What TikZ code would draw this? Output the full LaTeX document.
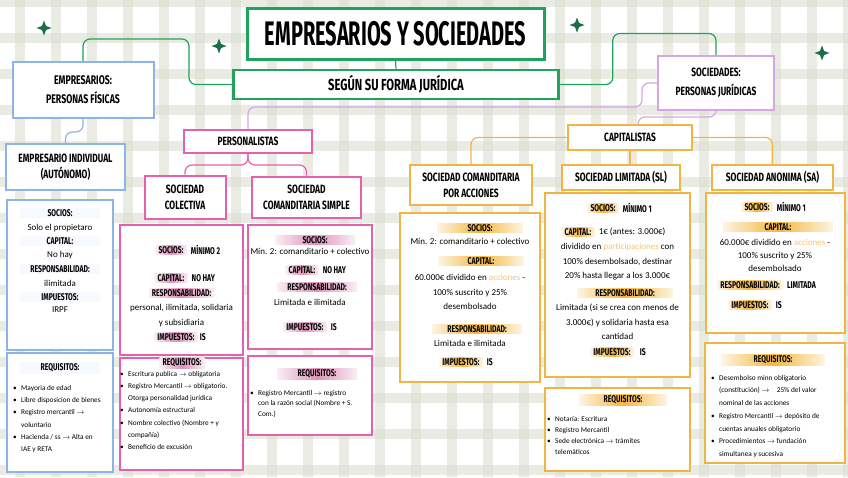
\documentclass[tikz,border=0pt]{standalone}
\usepackage{fontspec}
\usepackage{graphicx}
\setmainfont{Carlito}
\newfontfamily\capfont[FakeStretch=0.7]{Fira Sans}
\usepackage{tikz}
\usetikzlibrary{positioning,shapes.geometric}
\definecolor{cGreen} {HTML}{21A35E}
\definecolor{cStar}  {HTML}{1C6E47}
\definecolor{cBlue}  {HTML}{8DB4E6}
\definecolor{cBlueT} {HTML}{A9C1F2}
\definecolor{cPink}  {HTML}{E561AE}
\definecolor{cPinkT} {HTML}{DE92BA}
\definecolor{cOrange}{HTML}{F2B544}
\definecolor{cOrangeT}{HTML}{F4B73E}
\definecolor{cLilac} {HTML}{D6A6E4}
\definecolor{cAcc}   {HTML}{F6C57A}
\definecolor{cStripe}{HTML}{D9DDCF}

\newcommand\fTitle{\capfont\bfseries\fontsize{12}{16}\selectfont}
\newcommand\fLbl{\capfont\bfseries\fontsize{9.8}{11}\selectfont}
\newcommand\fBody{\fontsize{9}{14.5}\selectfont}
\newcommand\itm{\makebox[8pt][l]{\textbullet}}
\newcommand\cont{\hspace*{8pt}}
\newcommand\goesto{$\rightarrow$}

\tikzset{
  box/.style={draw=#1, fill=white, line width=2pt, align=center, font=\fTitle, inner sep=0pt},
  panel/.style={draw=#1, fill=white, line width=1.8pt, inner sep=0pt},
  tag/.style={font=\fLbl, inner xsep=3pt, inner ysep=1.4pt,
    left color=#1!15, right color=#1!15, middle color=#1},
  body/.style={font=\fBody, inner sep=0pt, align=center},
  word/.style={font=\fLbl, inner sep=0pt},
  items/.style={inner sep=0pt, align=left, anchor=north west},
  link/.style={draw=#1, line width=1.2pt, rounded corners=7pt},
  twinkle/.style={star, star points=4, star point ratio=2.6, fill=cStar,
    minimum size=15pt, inner sep=0pt}
}

\begin{document}
\begin{tikzpicture}[x=1pt,y=-1pt]
  \useasboundingbox (0,0) rectangle (848,477);
  % plaid background
  \fill[white] (0,0) rectangle (848,477);
  \foreach \x in {20,56,...,848}
    \fill[cStripe,opacity=.55] (\x-5,0) rectangle (\x+5,477);
  \foreach \y in {2,38,...,477}
    \fill[cStripe,opacity=.55] (0,\y-5) rectangle (848,\y+5);

  \node[twinkle] (st1) at (44,28) {};
  \node[twinkle] (st2) at (219,46) {};
  \node[twinkle] (st3) at (577,25) {};
  \node[twinkle] (st4) at (822,53) {};

  % top level
  \node[box=cGreen, line width=3pt, minimum width=297pt, minimum height=51pt] (title) at (395.5,33.5)
    {\scalebox{0.84}[1]{\capfont\bfseries\fontsize{34}{36}\selectfont EMPRESARIOS Y SOCIEDADES}};
  \node[box=cGreen, line width=2.6pt, minimum width=325pt, minimum height=29pt,
    font=\capfont\bfseries\fontsize{16}{18}\selectfont] (segun) at (396,84.5) {SEGÚN SU FORMA JURÍDICA};
  \node[box=cBlue, minimum width=141pt, minimum height=56pt, font=\capfont\bfseries\fontsize{12.5}{19}\selectfont]
    (emp) at (83,90) {EMPRESARIOS:\\PERSONAS FÍSICAS};
  \node[box=cLilac, minimum width=116pt, minimum height=54pt, font=\capfont\bfseries\fontsize{12}{19}\selectfont]
    (soc) at (716,83) {SOCIEDADES:\\PERSONAS JURÍDICAS};

  % second level
  \node[box=cBlue, minimum width=119pt, minimum height=46pt] (ind) at (65.5,167) {EMPRESARIO INDIVIDUAL\\(AUTÓNOMO)};
  \node[box=cPink, minimum width=128pt, minimum height=23pt] (pers) at (248,141.5) {PERSONALISTAS};
  \node[box=cOrange, minimum width=124pt, minimum height=25pt] (cap) at (630,137.5) {CAPITALISTAS};
  \node[box=cPink, minimum width=81pt, minimum height=43pt] (colec) at (185,197) {SOCIEDAD\\COLECTIVA};
  \node[box=cPink, minimum width=109pt, minimum height=41pt] (csim) at (306.5,197) {SOCIEDAD\\COMANDITARIA SIMPLE};
  \node[box=cOrange, minimum width=122pt, minimum height=40pt] (cpa) at (471,185) {SOCIEDAD COMANDITARIA\\POR ACCIONES};
  \node[box=cOrange, minimum width=118pt, minimum height=25pt] (sl) at (621,177.5) {SOCIEDAD LIMITADA (SL)};
  \node[box=cOrange, minimum width=121pt, minimum height=25pt] (sa) at (772.5,177.5) {SOCIEDAD ANONIMA (SA)};

  % connectors
  \draw[link=cGreen] (emp.north) |- ++(106,-22) |- (segun.west);
  \draw[link=cGreen] (title.south) -- (segun.north);
  \draw[link=cGreen] (segun.east) -| ++(53,-51) -| (soc.north);
  \draw[link=cLilac] (soc.west) -| ++(-15,24) -| (pers.north);
  \draw[link=cLilac] (soc.south) -- ++(0,6) -| ([xshift=8pt]cap.north);
  \draw[link=cBlue] (emp.south) -- ++(0,13) -| (ind.north);
  \draw[link=cPink] (pers.south) -- ++(0,11) -| (colec.north);
  \draw[link=cPink] (pers.south) -- ++(0,11) -| (csim.north);
  \draw[link=cOrange] (cap.west) -| (cpa.north);
  \draw[link=cOrange] (cap.east) -| (sa.north);
  \draw[link=cOrange] (cap.south) -- (cap.south |- sl.north);

  % empresario individual
  \node[panel=cBlue, minimum width=106pt, minimum height=150pt] (eiInfo) at (60,275) {};
  \node[panel=cBlue, minimum width=106pt, minimum height=119pt] (eiReq) at (60,412.5) {};
  \node[tag=cBlueT, minimum width=80pt, left color=cBlueT!10, right color=cBlueT!10] (eiSoc) at (60,213) {SOCIOS:};
  \node[body] (eiSocT) at (60,228) {Solo el propietaro};
  \node[tag=cBlueT, minimum width=80pt, left color=cBlueT!10, right color=cBlueT!10] (eiCap) at (60,241) {CAPITAL:};
  \node[body] (eiCapT) at (60,255) {No hay};
  \node[tag=cBlueT, minimum width=80pt, left color=cBlueT!10, right color=cBlueT!10] (eiRes) at (60,269) {RESPONSABILIDAD:};
  \node[body] (eiResT) at (60,283) {ilimitada};
  \node[tag=cBlueT, minimum width=80pt, left color=cBlueT!10, right color=cBlueT!10] (eiImp) at (60,297) {IMPUESTOS:};
  \node[body] (eiImpT) at (60,310) {IRPF};
  \node[tag=cBlueT, minimum width=80pt, left color=cBlueT!10, right color=cBlueT!10] (eiRq) at (60,368) {REQUISITOS:};
  \node[items, font=\fontsize{7.3}{12.3}\selectfont] (eiList) at (13,385) {%
    \itm Mayoria de edad\\
    \itm Libre disposicion de bienes\\
    \itm Registro mercantil \goesto\\
    \cont voluntario\\
    \itm Hacienda / ss \goesto{} Alta en\\
    \cont IAE y RETA};

  % sociedad colectiva
  \node[panel=cPink, minimum width=123pt, minimum height=130pt] (scInfo) at (181.5,290) {};
  \node[panel=cPink, minimum width=123pt, minimum height=112pt] (scReq) at (181.5,414) {};
  \node[tag=cPinkT] (scSoc) at (171,250) {SOCIOS:};
  \node[word, right=4pt of scSoc] (scSocT) {MÍNIMO 2};
  \node[tag=cPinkT] (scCap) at (171,278) {CAPITAL:};
  \node[word, right=4pt of scCap] (scCapT) {NO HAY};
  \node[tag=cPinkT] (scRes) at (181.5,293) {RESPONSABILIDAD:};
  \node[body] (scResT) at (181.5,315.5) {personal, ilimitada, solidaria\\y subsidiaria};
  \node[tag=cPinkT] (scImp) at (176,337) {IMPUESTOS:};
  \node[word, right=2pt of scImp] (scImpT) {IS};
  \node[tag=cPinkT] (scRq) at (182,363) {REQUISITOS:};
  \node[items, font=\fontsize{7.3}{12.2}\selectfont] (scList) at (120,371) {%
    \itm Escritura publica \goesto{} obligatoria\\
    \itm Registro Mercantil \goesto{} obligatorio.\\
    \cont Otorga personalidad jurídica\\
    \itm Autonomía estructural\\
    \itm Nombre colectivo (Nombre + y\\
    \cont compañía)\\
    \itm Beneficio de excusión};

  % comanditaria simple
  \node[panel=cPink, minimum width=124pt, minimum height=124pt] (csInfo) at (310,287) {};
  \node[panel=cPink, minimum width=124pt, minimum height=79pt] (csReq) at (310,395.5) {};
  \node[tag=cPinkT, minimum width=80pt] (csSoc) at (315,240) {SOCIOS:};
  \node[body] (csSocT) at (310,251) {Mín. 2: comanditario + colectivo};
  \node[tag=cPinkT] (csCap) at (302,270) {CAPITAL:};
  \node[word, right=4pt of csCap] (csCapT) {NO HAY};
  \node[tag=cPinkT, minimum width=80pt] (csRes) at (317,287) {RESPONSABILIDAD:};
  \node[body] (csResT) at (310,302) {Limitada e ilimitada};
  \node[tag=cPinkT] (csImp) at (305,327) {IMPUESTOS:};
  \node[word, right=4pt of csImp] (csImpT) {IS};
  \node[tag=cPinkT, minimum width=80pt] (csRq) at (317,374) {REQUISITOS:};
  \node[items, font=\fontsize{7.3}{10.6}\selectfont] (csList) at (250,390) {%
    \itm Registro Mercantil \goesto{} registro\\
    \cont con la razón social (Nombre + S.\\
    \cont Com.)};

  % comanditaria por acciones
  \node[panel=cOrange, minimum width=140pt, minimum height=169pt] (cpaInfo) at (470,297.5) {};
  \node[tag=cOrangeT, minimum width=85pt] (cpaSoc) at (480,228) {SOCIOS:};
  \node[body] (cpaSocT) at (470,241) {Mín. 2: comanditario + colectivo};
  \node[tag=cOrangeT, minimum width=85pt] (cpaCap) at (481,261) {CAPITAL:};
  \node[body] (cpaCapT) at (470,292) {60.000€ dividido en {\color{cAcc}acciones} -\\100\% suscrito y 25\%\\desembolsado};
  \node[tag=cOrangeT, minimum width=90pt] (cpaRes) at (477,329) {RESPONSABILIDAD:};
  \node[body] (cpaResT) at (470,343) {Limitada e ilimitada};
  \node[tag=cOrangeT] (cpaImp) at (461,362) {IMPUESTOS:};
  \node[word, right=4pt of cpaImp] (cpaImpT) {IS};

  % sociedad limitada
  \node[panel=cOrange, minimum width=145pt, minimum height=184pt] (slInfo) at (617.5,285) {};
  \node[panel=cOrange, minimum width=145pt, minimum height=83pt] (slReq) at (617.5,429.5) {};
  \node[tag=cOrangeT] (slSoc) at (603,208) {SOCIOS:};
  \node[word, right=4pt of slSoc] (slSocT) {MÍNIMO 1};
  \node[tag=cOrangeT] (slCap) at (578,232) {CAPITAL:};
  \node[body, right=4pt of slCap] (slCapT) {1€ (antes: 3.000€)};
  \node[body] (slCapU) at (617.5,262) {dividido en {\color{cAcc}participaciones} con\\100\% desembolsado, destinar\\20\% hasta llegar a los 3.000€};
  \node[tag=cOrangeT, minimum width=96pt] (slRes) at (625,293) {RESPONSABILIDAD:};
  \node[body] (slResT) at (617.5,322) {Limitada (si se crea con menos de\\3.000€) y solidaria hasta esa\\cantidad};
  \node[tag=cOrangeT] (slImp) at (612,352) {IMPUESTOS:};
  \node[word, right=6pt of slImp] (slImpT) {IS};
  \node[tag=cOrangeT, minimum width=87pt] (slRq) at (623,400) {REQUISITOS:};
  \node[items, font=\fontsize{7.3}{11}\selectfont] (slList) at (547,416) {%
    \itm Notaría: Escritura\\
    \itm Registro Mercantil\\
    \itm Sede electrónica \goesto{} trámites\\
    \cont telemáticos};

  % sociedad anonima
  \node[panel=cOrange, minimum width=139pt, minimum height=140pt] (saInfo) at (775.5,263) {};
  \node[panel=cOrange, minimum width=140pt, minimum height=120pt] (saReq) at (775,403) {};
  \node[tag=cOrangeT] (saSoc) at (757,207) {SOCIOS:};
  \node[word, right=4pt of saSoc] (saSocT) {MÍNIMO 1};
  \node[tag=cOrangeT, minimum width=110pt] (saCap) at (778,227) {CAPITAL:};
  \node[body, font=\fontsize{9}{13}\selectfont] (saCapT) at (775,255) {60.000€ dividido en {\color{cAcc}acciones} -\\100\% suscrito y 25\%\\desembolsado};
  \node[tag=cOrangeT] (saRes) at (750,285) {RESPONSABILIDAD:};
  \node[word, right=4pt of saRes] (saResT) {LIMITADA};
  \node[tag=cOrangeT] (saImp) at (750,305) {IMPUESTOS:};
  \node[word, right=4pt of saImp] (saImpT) {IS};
  \node[tag=cOrangeT, minimum width=103pt] (saRq) at (773,360) {REQUISITOS:};
  \node[items, font=\fontsize{7.3}{12.7}\selectfont] (saList) at (711,375) {%
    \itm Desembolso minn obligatorio\\
    \cont (constitución) \goesto\quad 25\% del valor\\
    \cont nominal de las acciones\\
    \itm Registro Mercantil \goesto{} depósito de\\
    \cont cuentas anuales obligatorio\\
    \itm Procedimientos \goesto{} fundación\\
    \cont simultanea y sucesiva};
\end{tikzpicture}
\end{document}
